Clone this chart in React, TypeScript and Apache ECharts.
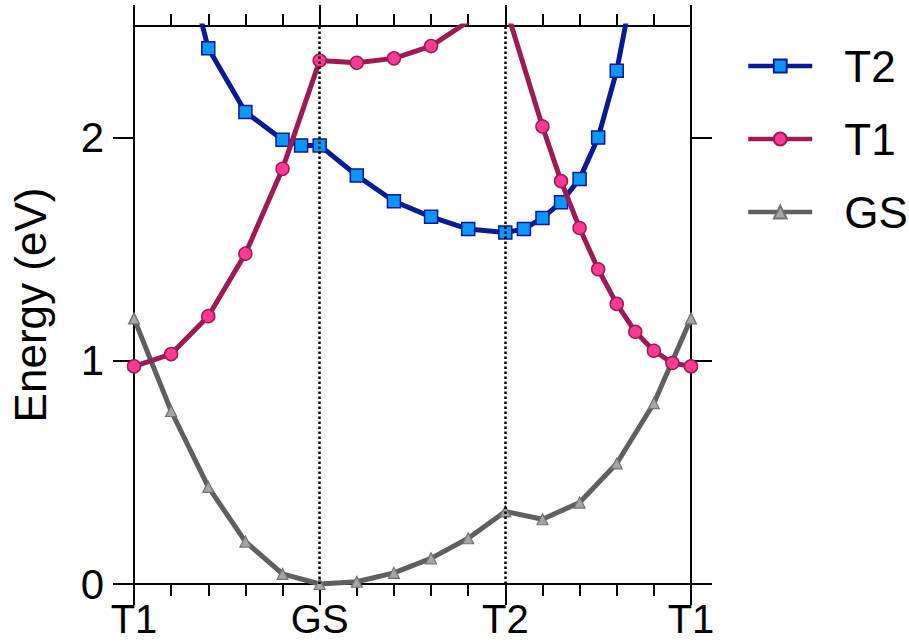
import React, { useEffect, useRef } from "react";
import * as echarts from "echarts";

const xTickLabels: Record<number, string> = { 0: "T1", 5: "GS", 10: "T2", 15: "T1" };
const yTickValues = [0, 1, 2];

const t2X = [1, 2, 3, 4, 4.5, 5, 6, 7, 8, 9, 10, 10.5, 11, 11.5, 12, 12.5, 13, 13.5];
const t2Y = [3.05, 2.4, 2.115, 1.99, 1.965, 1.965, 1.83, 1.715, 1.645, 1.59, 1.575, 1.59, 1.64, 1.71, 1.815, 2.0, 2.3, 2.73];

const t1X = [0, 1, 2, 3, 4, 5, 6, 7, 8, 9, 10, 11, 11.5, 12, 12.5, 13, 13.5, 14, 14.5, 15];
const t1Y = [0.975, 1.03, 1.2, 1.48, 1.86, 2.345, 2.335, 2.355, 2.41, 2.52, 2.59, 2.05, 1.805, 1.595, 1.41, 1.255, 1.13, 1.045, 0.99, 0.975];

const gsX = [0, 1, 2, 3, 4, 5, 6, 7, 8, 9, 10, 11, 12, 13, 14, 15];
const gsY = [1.19, 0.775, 0.435, 0.19, 0.045, 0, 0.01, 0.05, 0.115, 0.205, 0.325, 0.29, 0.365, 0.54, 0.81, 1.19];

const markerLines = [5, 10];

const FONT = "'Liberation Sans', Arial, Helvetica, sans-serif";

const zip = (xs: number[], ys: number[]) => xs.map((x, i) => [x, ys[i]]);

export default function App() {
  const ref = useRef<HTMLDivElement>(null);
  useEffect(() => {
    if (!ref.current) return;
    const chart = echarts.init(ref.current, undefined, { renderer: "svg" });
    const axisLine = { show: true, onZero: false, lineStyle: { color: "#000", width: 2 } };
    const xCommon = {
      type: "value",
      min: 0,
      max: 15,
      interval: 5,
      axisLine,
      axisTick: { show: true, length: 21, lineStyle: { color: "#000", width: 2 } },
      minorTick: { show: true, splitNumber: 5, length: 12, lineStyle: { color: "#000", width: 2 } },
      splitLine: { show: false },
      minorSplitLine: { show: false },
    };
    const yCommon = {
      type: "value",
      min: 0,
      max: 2.5,
      axisLine,
      axisTick: { show: true, length: 21, customValues: yTickValues, lineStyle: { color: "#000", width: 2 } },
      splitLine: { show: false },
    };
    chart.setOption({
      animation: false,
      backgroundColor: "#fff",
      textStyle: { fontFamily: FONT },
      grid: { left: 133, right: 218, top: 26, bottom: 58, containLabel: false },
      legend: {
        orient: "vertical",
        left: 746,
        top: 44,
        padding: 0,
        itemWidth: 64,
        itemHeight: 16,
        itemGap: 29,
        data: ["T2", "T1", "GS"],
        lineStyle: { width: 4.5 },
        textStyle: { fontSize: 44, lineHeight: 44, color: "#000", fontFamily: FONT, padding: [0, 0, 0, 27] },
      },
      xAxis: [
        {
          ...xCommon,
          position: "bottom",
          axisLabel: {
            show: true,
            margin: 17,
            fontSize: 40,
            lineHeight: 36,
            color: "#000",
            fontFamily: FONT,
            formatter: (v: number) => xTickLabels[v] ?? "",
          },
        },
        { ...xCommon, position: "top", axisLabel: { show: false } },
      ],
      yAxis: [
        {
          ...yCommon,
          position: "left",
          name: "Energy (eV)",
          nameLocation: "middle",
          nameGap: 82,
          nameTextStyle: { fontSize: 44, color: "#000", fontFamily: FONT },
          axisLabel: { show: true, margin: 30, fontSize: 42, color: "#000", fontFamily: FONT, customValues: yTickValues },
        },
        { ...yCommon, position: "right", axisLabel: { show: false } },
      ],
      series: [
        {
          name: "guides",
          type: "line",
          data: [],
          z: 1,
          markLine: {
            silent: true,
            symbol: ["none", "none"],
            label: { show: false },
            lineStyle: { color: "#000", width: 2.5, type: [2.5, 2.5] },
            data: markerLines.map((v) => ({ xAxis: v })),
          },
        },
        {
          name: "T2",
          type: "line",
          data: zip(t2X, t2Y),
          symbol: "rect",
          symbolSize: 13,
          lineStyle: { color: "#0A1A92", width: 5 },
          itemStyle: { color: "#0A96FA", borderColor: "#0A1A92", borderWidth: 1.5 },
          z: 3,
        },
        {
          name: "T1",
          type: "line",
          data: zip(t1X, t1Y),
          symbol: "circle",
          symbolSize: 13,
          lineStyle: { color: "#9C1B56", width: 5 },
          itemStyle: { color: "#FF3A95", borderColor: "#9C1B56", borderWidth: 1.5 },
          z: 4,
        },
        {
          name: "GS",
          type: "line",
          data: zip(gsX, gsY),
          symbol: "triangle",
          symbolSize: 11,
          lineStyle: { color: "#5F5F5F", width: 5 },
          itemStyle: { color: "#A5A5A5", borderColor: "#727272", borderWidth: 1.2 },
          z: 2,
        },
      ],
    });
    return () => chart.dispose();
  }, []);
  return <div ref={ref} style={{ position: "fixed", left: 0, top: 0, width: 909, height: 642 }} />;
}
